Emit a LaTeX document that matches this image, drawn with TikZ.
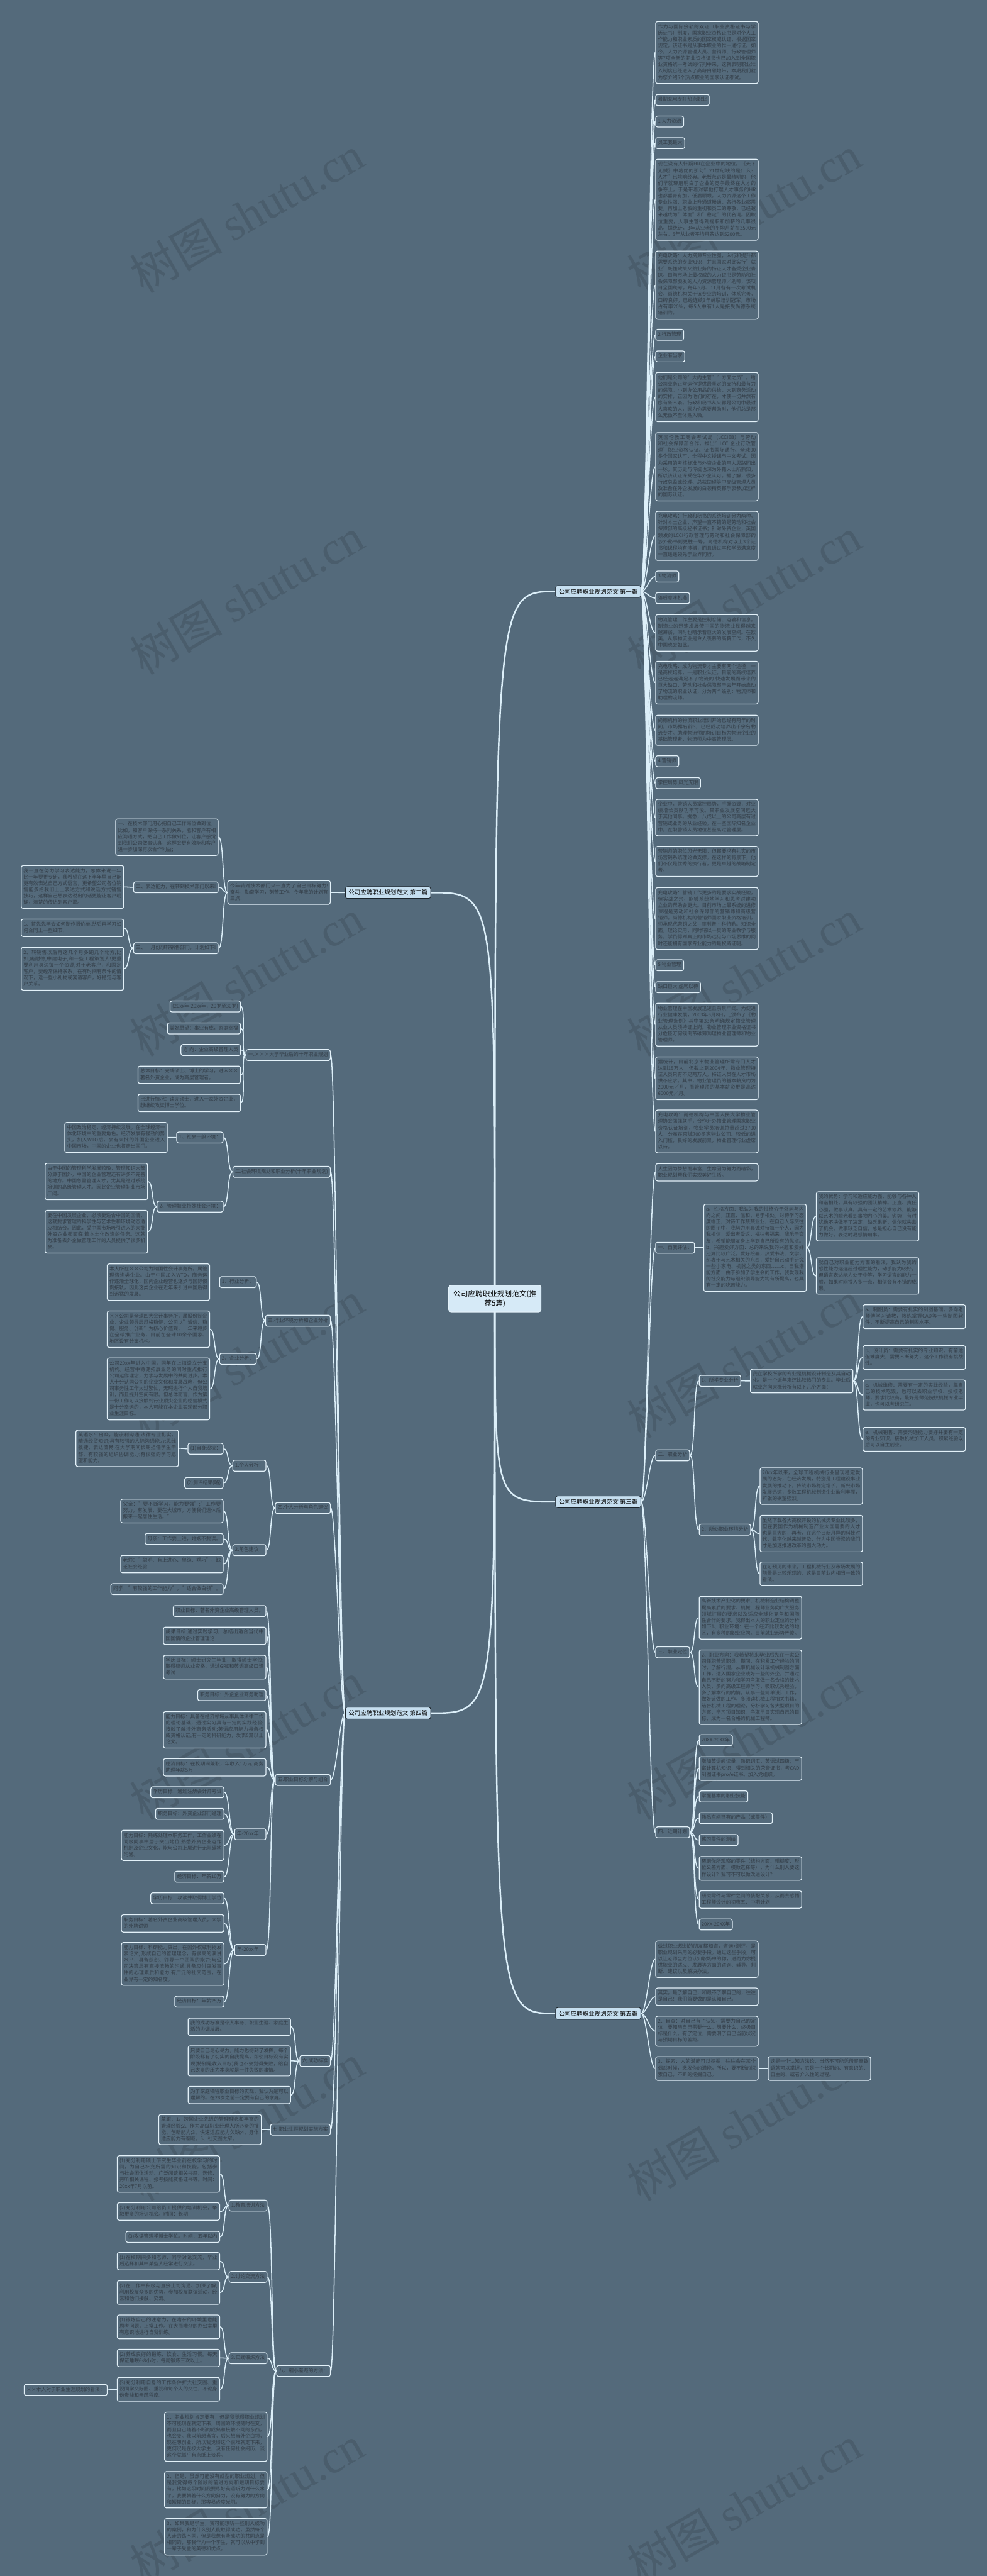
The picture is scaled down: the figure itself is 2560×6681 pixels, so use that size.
\documentclass[tikz,border=0pt]{standalone}
\usepackage{fontspec}
\setmainfont{Noto Sans CJK SC}
\newfontfamily\wmlatin{Liberation Serif}
\XeTeXlinebreaklocale "zh"
\XeTeXlinebreakskip = 0pt plus 1pt
\usepackage{xcolor}
\usepackage{tikz}
\usetikzlibrary{
    arrows.meta,
    positioning,
    calc,
    backgrounds
}
\definecolor{mmbg}{HTML}{546A7B}
\definecolor{mmedge}{HTML}{E3F1F9}
\definecolor{mmline}{HTML}{DCEFF9}
\definecolor{mmink}{HTML}{333D47}
\definecolor{mmsect}{HTML}{C5DEEF}
\definecolor{mmroot}{HTML}{D6EAF7}
\definecolor{mmdark}{HTML}{1C252C}
\newcommand\leafsize{\fontsize{12.7}{16.5}\selectfont}
\newcommand\sectsize{\fontsize{15.5}{20}\selectfont}
\newcommand\rootsize{\fontsize{19}{25}\selectfont}
\tikzset{
    % plain topic box
    leaf/.style={
        rectangle,
        rounded corners=5pt,
        draw=mmedge,
        line width=2pt,
        fill=mmbg,
        text=mmink,
        font=\leafsize,
        inner xsep=6pt,
        inner ysep=6pt,
        execute at begin node=\strut,
        execute at end node=\strut
    },
    % paragraph box
    para/.style={
        leaf,
        text width=254pt,
        align=justify
    },
    % chapter topic
    sect/.style={
        rectangle,
        rounded corners=5pt,
        draw=mmdark,
        line width=1.5pt,
        fill=mmsect,
        text=black,
        font=\sectsize,
        inner xsep=8pt,
        inner ysep=8pt
    },
    % central topic
    rootnode/.style={
        rectangle,
        rounded corners=6pt,
        draw=mmedge,
        line width=2pt,
        fill=mmroot,
        text=black,
        font=\rootsize,
        align=center,
        inner xsep=12pt,
        inner ysep=12pt
    },
    % connectors
    rlink/.style={
        draw=mmline,
        line width=2.5pt,
        to path={.. controls +(14,0) and +(-14,0) .. (\tikztotarget)}
    },
    llink/.style={
        draw=mmline,
        line width=2.5pt,
        to path={.. controls +(-14,0) and +(14,0) .. (\tikztotarget)}
    },
    trunk/.style={
        draw=mmline,
        line width=4pt
    },
    wmark/.style={
        text=mmbg!88!black,
        font=\fontsize{120}{120}\selectfont,
        rotate=30,
        inner sep=0pt
    }
}

\begin{document}
\begin{tikzpicture}[x=1pt, y=-1pt]

    \useasboundingbox (0,0) rectangle (2560,6681);

    % Central topic
    \node[rootnode] (root) at (1284,3368) {公司应聘职业规划范文(推\\荐5篇)};

    % Chapters
    \node[sect, anchor=west] (s1) at (1441,1534) {公司应聘职业规划范文 第一篇};
    \node[sect, anchor=east] (s2) at (1118,2315) {公司应聘职业规划范文 第二篇};
    \node[sect, anchor=west] (s3) at (1441,3895) {公司应聘职业规划范文 第三篇};
    \node[sect, anchor=east] (s4) at (1118,4443) {公司应聘职业规划范文 第四篇};
    \node[sect, anchor=west] (s5) at (1441,5222) {公司应聘职业规划范文 第五篇};

    % Chapter 1 (right)
    \node[para, anchor=north west] (a1) at (1700,55) {作为与国际接轨的双证（职业资格证书与学历证书）制度，国家职业资格证书是对个人工作能力和职业素质的国家权威认证，根据国家规定，该证书是从事本职业的惟一通行证。如今，人力资源管理人员、营销师、行政管理师等7项全新的职业资格证书也已加入到全国职业资格统一考试的行列中来，这就表明职业准入制度已经进入了高薪白领地带，本期我们就为您介绍5个热点职业的国家认证考试。};
    \node[leaf, anchor=north west] (a2) at (1700,244) {暑期充电专盯热点职业};
    \node[leaf, anchor=north west] (a3) at (1700,300) {1 人力资源};
    \node[leaf, anchor=north west] (a4) at (1700,356) {员工我最大};
    \node[para, anchor=north west] (a5) at (1700,412) {现在没有人怀疑HR在企业中的地位。《天下无贼》中葛优的那句"21世纪缺的是什么？人才"已境晌经典。老板永远是最精明的，他们早就琢磨明白了企业的竞争最终在人才的争夺上，于是带着对帮他打理人才事务的HR也都垂青有加，低眉顺眼。人力资源这个工作专业性强，职业上升通道畅通，各行各业都需要，再加上老板的重视和员工的尊敬，已经越来越成为"体面"和"稳定"的代名词。因职位重要，人事主管得到提职和加薪的几率很高。据统计，3年从业者的平均月薪在3500元左右，5年从业者平均月薪达到5200元。};
    \node[para, anchor=north west] (a6) at (1700,650) {充电攻略：人力资源专业性强，入行和提升都需要系统的专业知识，并且国家对此实行"就业"既懂政策又熟业务的持证人才备受企业青睐。目前市场上最权威的人力证书是劳动和社会保障部颁发的人力资源管理师／助师，该项目全国统考，每年5月、11月各有一次考试机会。尚德机构关于该专业的培训，体系完善，口碑良好，已经连续3年蝉联培训冠军。市场占有率20\%，每5人中有1人是接受尚德系统培训的。};
    \node[leaf, anchor=north west] (a7) at (1700,853) {2 行政管理};
    \node[leaf, anchor=north west] (a8) at (1700,909) {企业有当家};
    \node[para, anchor=north west] (a9) at (1700,965) {他们是公司的"大内主管""方面之员"。给公司业务正常运作提供最坚定的支持和最有力的保障。小到办公用品的供给，大到商务活动的安排，正因为他们的存在，才使一切井然有序有条不紊。行政和秘书从来都是公司中最讨人喜欢的人，因为你需要帮助时，他们总是那么无微不至体贴入微。};
    \node[para, anchor=north west] (a10) at (1700,1121) {英国伦敦工商会考试局（LCCIEB）与劳动和社会保障部合作，推出"LCCI企业行政管理"职业资格认证。证书国际通行、全球90多个国家认可，全程中文授课与中文考试。因为采用的考核标准与外资企业的用人思路同出一脉，其历史与传统也深为外籍人士所熟知，所以该认证深受在华外企认可。据了解，很多行政总监或经理、总裁助理等中高级管理人员及准备在外企发展的白领精英都乐衷参加这样的国际认证。};
    \node[para, anchor=north west] (a11) at (1700,1325) {充电攻略：行政和秘书的系统培训分为两种。针对本土企业，声望一直不错的是劳动和社会保障部的高级秘书证书；针对外资企业，英国颁发的LCCI行政管理与劳动和社会保障部的涉外秘书则更胜一筹。尚德机构对以上3个证书和课程均有涉猎，而且通过率和学员满意度一直遥遥领先于业界同行。};
    \node[leaf, anchor=north west] (a12) at (1700,1480) {3 物流师};
    \node[leaf, anchor=north west] (a13) at (1700,1536) {落后意味机遇};
    \node[para, anchor=north west] (a14) at (1700,1593) {物流管理工作主要是控制仓储、运输和信息。制造业的迅速发展使中国的物流业显得越来越薄弱，同时也暗示着巨大的发展空间。在欧美，从事物流业是令人羡慕的高薪工作，不久中国也会如此。};
    \node[para, anchor=north west] (a15) at (1700,1714) {充电攻略：成为物流专才主要有两个途径：一是高校培养，一是职业认证。目前的高校培养已经远远满足不了物流的.快速发展而带来的巨大缺口，劳动和社会保障部于去年开始启动了物流的职业认证，分为两个级别：物流师和助理物流师。};
    \node[para, anchor=north west] (a16) at (1700,1854) {尚德机构的物流职业培训开始已经有两年的时间，市场排名前3，已经成功培养出千余名物流专才。助理物流师的培训目标为物流企业的基础管理者，物流师为中高管理层。};
    \node[leaf, anchor=north west] (a17) at (1700,1959) {4 营销师};
    \node[leaf, anchor=north west] (a18) at (1700,2016) {掌控局势 风光无限};
    \node[para, anchor=north west] (a19) at (1700,2072) {企业中，营销人员掌控局势，手握资源，对业绩增长贡献功不可没。其职业发展空间远大于其他同事。据悉，八成以上的公司高层有过营销或业务的从业经验。在一些国际知名企业中，在职营销人员地位甚至高过管理层。};
    \node[para, anchor=north west] (a20) at (1700,2194) {营销师的职位风光无限，但都要求有扎实的市场营销系统理论做支撑。在这样的背景下，他们不仅是优秀的执行者，更是卓越的战略制定者。};
    \node[para, anchor=north west] (a21) at (1700,2301) {充电攻略：营销工作更多的是要求实战经验，但实战之余，能够系统地学习和思考对建功立业的帮助会更大。目前市场上最系统的进修课程是劳动和社会保障部的营销师和高级营销师。尚德机构的营销师国家职业资格培训，师承现代营销之父—菲利普·科特勒。知识全面，理论实用，同时辅以一贯的专业教学与服务，学员得到真正的市场远见与市场思维的同时还能拥有国家专业能力的最权威证明。};
    \node[leaf, anchor=north west] (a22) at (1700,2488) {5 物业管理};
    \node[leaf, anchor=north west] (a23) at (1700,2545) {缺口巨大 虚席以待};
    \node[para, anchor=north west] (a24) at (1700,2601) {物业管理在中国发展迅速且前景广阔。为促进行业健康发展，2003年6月8日，\_颁布了《物业管理条例》其中第33条明确规定物业管理从业人员须持证上岗。物业管理职业资格证书分危臣叮何镆倒芾碓薄⒅理物业管理师和物业管理师。};
    \node[para, anchor=north west] (a25) at (1700,2740) {据统计，目前北京市物业管理所需专门人才达到15万人，但截止到2004年，物业管理持证人员只有不足两万人。持证人员在人才市场供不应求。其中，物业管理员的基本薪资约为2000元／月，而管理师的基本薪资更是高达6000元／月。};
    \node[para, anchor=north west] (a26) at (1700,2878) {充电攻略：尚德机构与中国人民大学物业管理协会强强联手，合作开办物业管理国家职业资格认证培训，物业学员培训总量超过3700人，分布在京城700多家物业公司。较低的进入门槛，良好的发展前景，物业管理行业虚席以待。};

    % Chapter 2 (left)
    \node[para, anchor=north east] (b1) at (858,2283) {今年转到技术部门来一直为了自己目标努力!奋斗，勤奋学习，刻苦工作，今年我的计划有三点：};
    \node[para, anchor=north east] (b2) at (567,2123) {一、在技术部门用心把自己工作岗位做到位，比如，和客户保持一系列关系，能和客户有相应沟通方式，把自己工作做到位，让客户感觉到我们公司做事认真，这样会更有效能和客户进一步加深再次合作利益;};
    \node[leaf, anchor=north east] (b3) at (567,2286) {二、表达能力，在转到技术部门以来!};
    \node[para, anchor=north east] (b4) at (322,2244) {我一直在努力学习表达能力，总体来说一年比一年要更专研，我希望在这下半年里自己能更有效表达自己方式语言，更希望公司各位销售能多给我们上上表达方式和说话方式销售技巧，这样自己想表达说出的话更能让客户明确，清楚的传达到客户那。};
    \node[leaf, anchor=north east] (b5) at (567,2444) {三、十月份想转销售部门，计划如下!};
    \node[para, anchor=north east] (b6) at (322,2383) {1、首先先学会如何制作报价单,然后再学习如何合同上一些细节,};
    \node[para, anchor=north east] (b7) at (322,2456) {2、转销售以后再这几个月多跑几个地方,比如,施耐德,中建电子,和一些工程策划人!更重要利用身边每一个资源,对于老客户，和固定客户，要经常保持联系，在有时间有条件的情况下，送一些小礼物或宴请客户，好稳定与客户关系。};

    % Chapter 3 (right)
    \node[para, anchor=north west] (c1) at (1700,3017) {人生因为梦想而丰富，生命因为努力而精彩，职业规划帮我们实现美好生活。};
    \node[leaf, anchor=north west] (c2) at (1700,3221) {一、自我评估：};
    \node[para, anchor=north west] (c3) at (1825,3122) {a、性格方面：我认为我的性格介于外向与内向之间，正直、温和、易于相处。对待学习态度端正，对待工作兢兢业业，在自己人际交往的圈子中，我努力用真诚对待每一个人，因为我相信，爱出者爱返，福往者福来。我乐于交友，希望能朋友身上学到自己所没有的优点。b、兴趣爱好方面：总的来说我的兴趣和爱好还算比较广泛。爱好绘画，热爱书法、文学，热衷于与艺术相关的东西，爱好自己动手研究一些小家电、机器之类的东西……c、自我潜能方面：由于参加了学生会的工作，我发现我的社交能力与组织领导能力均有所提高，也具有一定的吃苦能力。};
    \node[para, anchor=north west] (c3a) at (2117,3090) {我的优势：学习和适应能力强，能够与各种人和谐相处，具有较强的团队精神。正直、责任心强，做事认真。具有一定的艺术修养，能够以艺术的眼光看到事物内心的美。劣势：有时犹豫不决做不了决定，缺乏果断，偶尔就失去了机会。做事缺乏自信，总是担心自己没有能力做好。表达时易感情用事。};
    \node[para, anchor=north west] (c3b) at (2117,3261) {就自己对职业能力方面的看法，我认为我的感性能力远远超过理性能力，动手能力较好，但语言表达能力处于中等，学习语言的能力一般，如果时间投入多一点，相信会有不错的成果。};
    \node[leaf, anchor=north west] (c5) at (1700,3759) {二、职业分析};
    \node[leaf, anchor=north west] (c6) at (1813,3566) {1、所学专业分析};
    \node[para, anchor=north west] (c7) at (1946,3550) {我在学校所学的专业是机械设计制造及其自动化，是一个近年来还比较热门的专业。毕业后就业方向大概分析有以下几个方面：};
    \node[para, anchor=north west] (c8) at (2238,3383) {a、制图员：需要有扎实的制图基础，多向老师傅学习请教，熟练掌握CAD等一些制图软件，不断提高自己的制图水平。};
    \node[para, anchor=north west] (c9) at (2238,3489) {b、设计员：需要有扎实的专业知识，有前途但难度大，需要不断努力，这个工作很有挑战性。};
    \node[para, anchor=north west] (c10) at (2238,3578) {c、机械维修：需要有一定的实践经验，靠自己的技术吃饭，也可以去职业学校、技校老师，要求比较高，最好是师范院校机械专业毕业，也可以考研究生。};
    \node[para, anchor=north west] (c11) at (2238,3701) {e、机械销售：需要沟通能力要好并要有一定的专业知识，接触机械加工人员，积累经验以后可以自主创业。};
    \node[leaf, anchor=north west] (c12) at (1813,3952) {2、所处职业环境分析};
    \node[para, anchor=north west] (c13) at (1971,3806) {20xx年以来，全球工程机械行业呈现稳定发展的态势，在经济发展，特别是工程建设事业发展的推动下，传统市场稳定增长，新兴市场发展迅速，多数工程机械制造企业盈利丰厚，扩张的欲望强烈。};
    \node[para, anchor=north west] (c14) at (1971,3929) {虽然下载各大高校开设的机械类专业比较多，但在我国作为机械制造产业大国需要的人才也是巨大的，再者，在这个日新月异的科技时代，数字化越来越普及，作为中国脊梁的我们才是加速推进改革的强大动力。};
    \node[para, anchor=north west] (c15) at (1971,4050) {在可预见的未来，工程机械行业及市场发展的前景是比较乐观的，这是目前业内相当一致的看法。};
    \node[leaf, anchor=north west] (c17) at (1700,4270) {三、职业定位};
    \node[para, anchor=north west] (c18) at (1813,4139) {高新技术产业化的要求、机械制造业结构调整提高素质的要求、机械工程师业务向广大服务领域扩展的要求以及适应全球化竞争和国际性合作的要求。我得出本人的职业定位的分析如下1、职业环境：在一个经济比较发达的地区，有多种的职业应聘。目前就业形势严峻。};
    \node[para, anchor=north west] (c19) at (1813,4278) {2、职业方向：我希望将来毕业后先在一家公司任职普通职员。期间，在积累工作经验的同时，了解行规。从事机械设计或机械制图方面工作，进入国家企业或好一些的外企，并通过自己不断的努力和学习争取做一名合格的技术人员，多向高级工程师学习，吸取优秀经验，多了解本行的内情，从事一些简单设计工作，做好该做的工作。多阅读机械工程相关书籍，结合机械工程的理论，分析学习各大型项目的方案，学习项目知识。争取早日实现自己的目标，成为一名合格的机械工程师。};
    \node[leaf, anchor=north west] (c20) at (1700,4737) {四、近期计划};
    \node[leaf, anchor=north west] (c21) at (1813,4498) {20XX-20XX年};
    \node[para, anchor=north west] (c22) at (1813,4555) {增加英语阅读量，熟记词汇，英语过四级；丰富计算机知识；得到相关的荣誉证书，考CAD制图证书pro/e证书。加入党组织。};
    \node[leaf, anchor=north west] (c23) at (1813,4644) {掌握基本的职业技能};
    \node[leaf, anchor=north west] (c24) at (1813,4700) {熟悉车间已有的产品（或零件）};
    \node[leaf, anchor=north west] (c25) at (1813,4757) {练习零件的测绘};
    \node[para, anchor=north west] (c26) at (1813,4814) {琢磨你所观察的零件（结构方面、粗糙度、形位公差方面、模数选择等），为什么别人要这样设计？我可不可以做改进设计？};
    \node[para, anchor=north west] (c27) at (1813,4903) {研究零件与零件之间的装配关系，从而去感悟工程师设计的初衷五、中期计划};
    \node[leaf, anchor=north west] (c28) at (1813,4976) {20XX-20XX年};

    % Chapter 4 (left)
    \node[leaf, anchor=north east] (d1) at (858,2721) {一.×××大学毕业后的十年职业规划};
    \node[leaf, anchor=north east] (d1a) at (625,2595) {(20xx年-20xx年，20岁至30岁)};
    \node[leaf, anchor=north east] (d1b) at (625,2652) {美好愿望：事业有成，家庭幸福};
    \node[leaf, anchor=north east] (d1c) at (625,2708) {方 向：企业高级管理人员};
    \node[para, anchor=north east] (d1d) at (625,2764) {总体目标：完成硕士、博士的学习，进入××著名外资企业，成为高层管理者。};
    \node[para, anchor=north east] (d1e) at (625,2837) {已进行情况：读完硕士，进入一家外资企业，想继续攻读博士学位。};
    \node[leaf, anchor=north east] (d2) at (858,3024) {二.社会环境规划和职业分析(十年职业规划)};
    \node[leaf, anchor=north east] (d2a) at (580,2935) {1、社会一般环境：};
    \node[para, anchor=north east] (d2a1) at (435,2910) {中国政治稳定，经济持续发展。在全球经济一体化环境中的重要角色。经济发展有强劲的势头，加入WTO后，会有大批的外国企业进入中国市场，中国的企业也将走出国门。};
    \node[leaf, anchor=north east] (d2b) at (580,3114) {2、管理职业特殊社会环境：};
    \node[para, anchor=north east] (d2b1) at (384,3016) {由于中国的管理科学发展较晚，管理知识大部分源于国外，中国的企业管理还有许多不完善的地方。中国急需管理人才，尤其是经过系统培训的高级管理人才。因此企业管理职业市场广阔。};
    \node[para, anchor=north east] (d2b2) at (384,3138) {要在中国发展企业，必须要适合中国的国情，这就要求管理的科学性与艺术性和环境动态适应相结合。因此，受中国市场吸引进入的大批外资企业都面临 着本土化改造的任务。这就为准备去外企做管理工作的人员提供了很多机会。};
    \node[leaf, anchor=north east] (d3) at (858,3410) {三.行业环境分析和企业分析};
    \node[leaf, anchor=north east] (d3a) at (666,3310) {1、行业分析：};
    \node[para, anchor=north east] (d3a1) at (545,3277) {本人所在××公司为跨国性会计事务所。属管理咨询类企业。由于中国加入WTO，商务运作逐渐全球化，国内企业经营也逐步与国际惯例接轨，因此这类企业在近年来引进中国后得到迅猛的发展。};
    \node[leaf, anchor=north east] (d3b) at (666,3509) {2、企业分析：};
    \node[para, anchor=north east] (d3b1) at (545,3399) {××公司是全球四大会计事务所，属股份制企业，企业领导层风格稳健，公司以"诚信、稳健、服务、创新"为核心价值观，十年来稳步在全球推广业务，目前在全球10余个国家、地区设有分支机构。};
    \node[para, anchor=north east] (d3b2) at (545,3521) {公司20xx年进入中国，同年在上海设立分支机构。经营中稳健拓展业务的同时重点推行公司运作理念，力求与发展中的共同进步。本人十分认同公司的企业文化和发展战略，但公司事务性工作太过繁忙，无暇进行个人自我培训，而且提升空间有限。但总体而言，作为第一份工作可以接触到行业顶尖企业的经营模式是十分幸运的，本人可能在本企业实现部分职业生涯目标。};
    \node[leaf, anchor=north east] (d4) at (858,3896) {四.个人分析与角色建议};
    \node[leaf, anchor=north east] (d4a) at (691,3786) {1.个人分析：};
    \node[leaf, anchor=north east] (d4a1) at (580,3742) {(1)自身现状：};
    \node[para, anchor=north east] (d4a1x) at (464,3708) {英语水平出众，能流利沟通;法律专业扎实，精通经贸知识;具有较强的人际沟通能力;思维敏捷，表达流畅;在大学期间长期担任学生干部，有较强的组织协调能力;有很强的学习愿望和能力。};
    \node[leaf, anchor=north east] (d4a2) at (580,3831) {(2)测评结果(略)};
    \node[leaf, anchor=north east] (d4b) at (691,4005) {2.角色建议：};
    \node[para, anchor=north east] (d4b1) at (580,3887) {父亲："要不断学习，能力要强";"工作要努力，有发展，要在大城市，方便我们退休后搬来一起居住生活。"};
    \node[leaf, anchor=north east] (d4b2) at (580,3976) {母亲：工作要上进，婚姻不要误。};
    \node[para, anchor=north east] (d4b3) at (580,4033) {老师："聪明、有上进心、单纯、乖巧"，缺乏社会经验};
    \node[leaf, anchor=north east] (d4b4) at (580,4106) {同学："有较强的工作能力"，"适合做白领"。};
    \node[leaf, anchor=north east] (d5) at (858,4601) {五.职业目标分解与组合};
    \node[leaf, anchor=north east] (d5a) at (691,4163) {职业目标：著名外资企业高级管理人员。};
    \node[para, anchor=north east] (d5b) at (691,4219) {成果目标:通过实践学习，总结出适合当代中国国情的企业管理理论};
    \node[para, anchor=north east] (d5c) at (691,4292) {学历目标：硕士研究生毕业，取得硕士学位;取得律师从业资格、通过GRE和英语高级口译考试};
    \node[leaf, anchor=north east] (d5d) at (691,4381) {职务目标：外企企业商务助理};
    \node[para, anchor=north east] (d5e) at (691,4438) {能力目标：具备在经济领域从事具体法律工作的理论基础，通过实习具有一定的实践经验;接触了解涉外商务活动;英语应用能力具备权威资格认证;有一定的科研能力，发表5篇以上论文。};
    \node[para, anchor=north east] (d5f) at (691,4560) {经济目标：在校期间兼职，年收入1万元;商务助理年薪5万};
    \node[leaf, anchor=north east] (d5g) at (691,4742) {年-20xx年：};
    \node[leaf, anchor=north east] (d5g1) at (582,4633) {学历目标：通过注册会计师考试};
    \node[leaf, anchor=north east] (d5g2) at (582,4689) {职务目标：外资企业部门经理};
    \node[para, anchor=north east] (d5g3) at (582,4746) {能力目标：熟练处理本职务工作，工作业绩在同级同事中居于突出地位;熟悉外资企业运作机制及企业文化，能与公司上层进行无阻碍地沟通。};
    \node[leaf, anchor=north east] (d5g4) at (582,4852) {经济目标：年薪10万};
    \node[leaf, anchor=north east] (d5h) at (691,5042) {年-20xx年：};
    \node[leaf, anchor=north east] (d5h1) at (582,4908) {学历目标：攻读并取得博士学位};
    \node[para, anchor=north east] (d5h2) at (582,4965) {职务目标：著名外资企业高级管理人员，大学的外聘讲师};
    \node[para, anchor=north east] (d5h3) at (582,5037) {能力目标：科研能力突出，在国外权威刊物发表论文; 形成自己的管理理念，有很高的演讲水平，具备组织、领导一个团队的能力;与公司决策层有直接流畅的沟通;具备应付突发事件的心理素质和能力;有广泛的社交范围，在业界有一定的知名度。};
    \node[leaf, anchor=north east] (d5h4) at (582,5176) {经济目标：年薪25万};
    \node[leaf, anchor=north east] (d6) at (858,5330) {六.成功标准};
    \node[para, anchor=north east] (d6a) at (755,5233) {我的成功标准是个人事务、职业生涯、家庭生活的协调发展。};
    \node[para, anchor=north east] (d6b) at (755,5305) {只要自己尽心尽力，能力也得到了发挥，每个阶段都有了切实的自我提高，即使目标没有实现(特别是收入目标)我也不会觉得失败，给自己太多的压力本身就是一件失败的事情。};
    \node[para, anchor=north east] (d6c) at (755,5410) {为了家庭牺牲职业目标的实现，我认为是可以理解的。在28岁之前一定要有自己的家庭。};
    \node[leaf, anchor=north east] (d7) at (858,5508) {七.职业生涯规划实施方案};
    \node[para, anchor=north east] (d7a) at (679,5483) {差距：1、跨国企业先进的管理理念和丰富的管理经验;2、作为高级职业经理人所必备的技能、创新能力;3、快速适应能力欠缺;4、身体适应能力有差距。5、社交圈太窄。};
    \node[leaf, anchor=north east] (d8) at (858,6134) {八、缩小差距的方法：};
    \node[leaf, anchor=north east] (d8a) at (694,5705) {1.教育培训方法};
    \node[para, anchor=north east] (d8a1) at (571,5590) {(1)充分利用硕士研究生毕业前在校学习的时间，为自己补充所需的知识和技能。包括参与社会团体活动、广泛阅读相关书籍、选修、旁听相关课程、报考技能资格证书等。时间：20xx年7月以前。};
    \node[para, anchor=north east] (d8a2) at (571,5712) {(2)充分利用公司给员工提供的培训机会，争取更多的培训机会。时间：长期};
    \node[leaf, anchor=north east] (d8a3) at (571,5786) {(3)攻读管理学博士学位。时间：五年以内};
    \node[leaf, anchor=north east] (d8b) at (694,5890) {2.讨论交流方法};
    \node[para, anchor=north east] (d8b1) at (571,5841) {(1)在校期间多和老师、同学讨论交流，毕业后选择和其中某些人经常进行交流。};
    \node[para, anchor=north east] (d8b2) at (571,5914) {(2)在工作中积极与直接上司沟通、加深了解;利用校友众多的优势，参加校友联谊活动，经常和他们接触、交流。};
    \node[leaf, anchor=north east] (d8c) at (694,6101) {3.实践锻炼方法};
    \node[para, anchor=north east] (d8c1) at (571,6003) {(1)锻炼自己的注意力，在嘈杂的环境里也能思考问题，正常工作。在大而嘈杂的办公室里有意识地进行自我训练。};
    \node[para, anchor=north east] (d8c2) at (571,6092) {(2)养成良好的锻炼、饮食、生活习惯。每天保证睡眠6-8小时，每周锻炼三次以上。};
    \node[para, anchor=north east] (d8c3) at (571,6165) {(3)充分利用自身的工作条件扩大社交圈、重视同学交际圈、重视和每个人的交往，不论身份贵贱和亲疏程度。};
    \node[leaf, anchor=north east] (d8c3x) at (279,6183) {××本人对于职业生涯规划的看法：};
    \node[para, anchor=north east] (d8d) at (694,6255) {1、职业规划肯定要有，但是我觉得职业规划不可能现在就定下来，周围的环境随时在变，而且自己随着不断的成熟和接触不同的东西，也会变。我以前想当官，后来想当外企白领，现在想创业，所以我觉得这个很难就定下来，更何况是在校大学生，没有任何社会阅历，谈这个就似乎有点纸上谈兵。};
    \node[para, anchor=north east] (d8e) at (694,6409) {2、但是，虽然可能没有成型的职业规划，但是我觉得每个阶段的前进方向和短期目标要有，比如这段时间我要练好英语听力到什么水平，我要朝着什么方向努力，没有努力的方向和短期的目标，那容易虚度光阴。};
    \node[para, anchor=north east] (d8f) at (694,6531) {3、如果我是学生，我可能想听一些别人成功的案例，和为什么别人能取得成功，虽然每个人走的路不同，但是我想有些成功的共同点是相同的，那我作为一个学生，就可以从中学到一辈子受益的美德和优点。};

    % Chapter 5 (right)
    \node[para, anchor=north west] (e1) at (1700,5033) {做过职业规划的朋友都知道，咨询+测评，是职业规划采用的必要手段。通过这些手段，可以让老师全方位认知职场中的你，进而为你提供职业的适应、发展等方面的咨询、辅导、判断、建议以及解决办法。};
    \node[para, anchor=north west] (e2) at (1700,5155) {其实，最了解自己，和最不了解自己的，往往是自己！我们首要做的是认知自己。};
    \node[para, anchor=north west] (e3) at (1700,5228) {2、自查：对自己有了认知，需要为自己的定位，要知晓自己需要什么，想要什么，终极目标是什么。有了定位，需要明了自己当前状况与预期目标的差距。};
    \node[para, anchor=north west] (e4) at (1700,5333) {3、探索：人的潜能可以挖掘，往往会在某个偶然时候，激发你的潜能，所以，要不断的探索自己，不断的挖掘自己。};
    \node[para, anchor=north west] (e5) at (1992,5333) {这是一个认知方法论，当然不可能凭借寥寥数语就可以掌握，它是一个长期的、有意识的、自主的、或者介入性的过程。};

    \begin{scope}[on background layer]
        % page colour and watermark
        \fill[mmbg] (0,0) rectangle (2560,6681);
        \node[wmark] (wm1) at (640,555) {树图 {\wmlatin shutu.cn}};
        \node[wmark] (wm2) at (1930,555) {树图 {\wmlatin shutu.cn}};
        \node[wmark] (wm3) at (640,1545) {树图 {\wmlatin shutu.cn}};
        \node[wmark] (wm4) at (1930,1545) {树图 {\wmlatin shutu.cn}};
        \node[wmark] (wm5) at (640,2535) {树图 {\wmlatin shutu.cn}};
        \node[wmark] (wm6) at (1930,2535) {树图 {\wmlatin shutu.cn}};
        \node[wmark] (wm7) at (640,3525) {树图 {\wmlatin shutu.cn}};
        \node[wmark] (wm8) at (1930,3525) {树图 {\wmlatin shutu.cn}};
        \node[wmark] (wm9) at (640,4515) {树图 {\wmlatin shutu.cn}};
        \node[wmark] (wm10) at (1930,4515) {树图 {\wmlatin shutu.cn}};
        \node[wmark] (wm11) at (640,5505) {树图 {\wmlatin shutu.cn}};
        \node[wmark] (wm12) at (1930,5505) {树图 {\wmlatin shutu.cn}};
        \node[wmark] (wm13) at (640,6495) {树图 {\wmlatin shutu.cn}};
        \node[wmark] (wm14) at (1930,6495) {树图 {\wmlatin shutu.cn}};

        % Central topic to chapters
        \draw[trunk] (root.center) .. controls (root.center |- s1.west) .. (s1.west);
        \draw[trunk] (root.center) .. controls (root.center |- s2.east) .. (s2.east);
        \draw[trunk] (root.center) .. controls (root.center |- s3.west) .. (s3.west);
        \draw[trunk] (root.center) .. controls (root.center |- s4.east) .. (s4.east);
        \draw[trunk] (root.center) .. controls (root.center |- s5.west) .. (s5.west);

        % Chapter 1 links
        \draw[rlink] (s1.east) to (a1.west);
        \draw[rlink] (s1.east) to (a2.west);
        \draw[rlink] (s1.east) to (a3.west);
        \draw[rlink] (s1.east) to (a4.west);
        \draw[rlink] (s1.east) to (a5.west);
        \draw[rlink] (s1.east) to (a6.west);
        \draw[rlink] (s1.east) to (a7.west);
        \draw[rlink] (s1.east) to (a8.west);
        \draw[rlink] (s1.east) to (a9.west);
        \draw[rlink] (s1.east) to (a10.west);
        \draw[rlink] (s1.east) to (a11.west);
        \draw[rlink] (s1.east) to (a12.west);
        \draw[rlink] (s1.east) to (a13.west);
        \draw[rlink] (s1.east) to (a14.west);
        \draw[rlink] (s1.east) to (a15.west);
        \draw[rlink] (s1.east) to (a16.west);
        \draw[rlink] (s1.east) to (a17.west);
        \draw[rlink] (s1.east) to (a18.west);
        \draw[rlink] (s1.east) to (a19.west);
        \draw[rlink] (s1.east) to (a20.west);
        \draw[rlink] (s1.east) to (a21.west);
        \draw[rlink] (s1.east) to (a22.west);
        \draw[rlink] (s1.east) to (a23.west);
        \draw[rlink] (s1.east) to (a24.west);
        \draw[rlink] (s1.east) to (a25.west);
        \draw[rlink] (s1.east) to (a26.west);

        % Chapter 2 links
        \draw[llink] (s2.west) to (b1.east);
        \draw[llink] (b1.west) to (b2.east);
        \draw[llink] (b1.west) to (b3.east);
        \draw[llink] (b1.west) to (b5.east);
        \draw[llink] (b3.west) to (b4.east);
        \draw[llink] (b5.west) to (b6.east);
        \draw[llink] (b5.west) to (b7.east);

        % Chapter 3 links
        \draw[rlink] (s3.east) to (c1.west);
        \draw[rlink] (s3.east) to (c2.west);
        \draw[rlink] (s3.east) to (c5.west);
        \draw[rlink] (s3.east) to (c17.west);
        \draw[rlink] (s3.east) to (c20.west);
        \draw[rlink] (c2.east) to (c3.west);
        \draw[rlink] (c3.east) to (c3a.west);
        \draw[rlink] (c3.east) to (c3b.west);
        \draw[rlink] (c5.east) to (c6.west);
        \draw[rlink] (c5.east) to (c12.west);
        \draw[rlink] (c6.east) to (c7.west);
        \draw[rlink] (c7.east) to (c8.west);
        \draw[rlink] (c7.east) to (c9.west);
        \draw[rlink] (c7.east) to (c10.west);
        \draw[rlink] (c7.east) to (c11.west);
        \draw[rlink] (c12.east) to (c13.west);
        \draw[rlink] (c12.east) to (c14.west);
        \draw[rlink] (c12.east) to (c15.west);
        \draw[rlink] (c17.east) to (c18.west);
        \draw[rlink] (c17.east) to (c19.west);
        \draw[rlink] (c20.east) to (c21.west);
        \draw[rlink] (c20.east) to (c22.west);
        \draw[rlink] (c20.east) to (c23.west);
        \draw[rlink] (c20.east) to (c24.west);
        \draw[rlink] (c20.east) to (c25.west);
        \draw[rlink] (c20.east) to (c26.west);
        \draw[rlink] (c20.east) to (c27.west);
        \draw[rlink] (c20.east) to (c28.west);

        % Chapter 4 links
        \draw[llink] (s4.west) to (d1.east);
        \draw[llink] (s4.west) to (d2.east);
        \draw[llink] (s4.west) to (d3.east);
        \draw[llink] (s4.west) to (d4.east);
        \draw[llink] (s4.west) to (d5.east);
        \draw[llink] (s4.west) to (d6.east);
        \draw[llink] (s4.west) to (d7.east);
        \draw[llink] (s4.west) to (d8.east);
        \draw[llink] (d1.west) to (d1a.east);
        \draw[llink] (d1.west) to (d1b.east);
        \draw[llink] (d1.west) to (d1c.east);
        \draw[llink] (d1.west) to (d1d.east);
        \draw[llink] (d1.west) to (d1e.east);
        \draw[llink] (d2.west) to (d2a.east);
        \draw[llink] (d2.west) to (d2b.east);
        \draw[llink] (d2a.west) to (d2a1.east);
        \draw[llink] (d2b.west) to (d2b1.east);
        \draw[llink] (d2b.west) to (d2b2.east);
        \draw[llink] (d3.west) to (d3a.east);
        \draw[llink] (d3.west) to (d3b.east);
        \draw[llink] (d3a.west) to (d3a1.east);
        \draw[llink] (d3b.west) to (d3b1.east);
        \draw[llink] (d3b.west) to (d3b2.east);
        \draw[llink] (d4.west) to (d4a.east);
        \draw[llink] (d4.west) to (d4b.east);
        \draw[llink] (d4a.west) to (d4a1.east);
        \draw[llink] (d4a.west) to (d4a2.east);
        \draw[llink] (d4a1.west) to (d4a1x.east);
        \draw[llink] (d4b.west) to (d4b1.east);
        \draw[llink] (d4b.west) to (d4b2.east);
        \draw[llink] (d4b.west) to (d4b3.east);
        \draw[llink] (d4b.west) to (d4b4.east);
        \draw[llink] (d5.west) to (d5a.east);
        \draw[llink] (d5.west) to (d5b.east);
        \draw[llink] (d5.west) to (d5c.east);
        \draw[llink] (d5.west) to (d5d.east);
        \draw[llink] (d5.west) to (d5e.east);
        \draw[llink] (d5.west) to (d5f.east);
        \draw[llink] (d5.west) to (d5g.east);
        \draw[llink] (d5.west) to (d5h.east);
        \draw[llink] (d5g.west) to (d5g1.east);
        \draw[llink] (d5g.west) to (d5g2.east);
        \draw[llink] (d5g.west) to (d5g3.east);
        \draw[llink] (d5g.west) to (d5g4.east);
        \draw[llink] (d5h.west) to (d5h1.east);
        \draw[llink] (d5h.west) to (d5h2.east);
        \draw[llink] (d5h.west) to (d5h3.east);
        \draw[llink] (d5h.west) to (d5h4.east);
        \draw[llink] (d6.west) to (d6a.east);
        \draw[llink] (d6.west) to (d6b.east);
        \draw[llink] (d6.west) to (d6c.east);
        \draw[llink] (d7.west) to (d7a.east);
        \draw[llink] (d8.west) to (d8a.east);
        \draw[llink] (d8.west) to (d8b.east);
        \draw[llink] (d8.west) to (d8c.east);
        \draw[llink] (d8.west) to (d8d.east);
        \draw[llink] (d8.west) to (d8e.east);
        \draw[llink] (d8.west) to (d8f.east);
        \draw[llink] (d8a.west) to (d8a1.east);
        \draw[llink] (d8a.west) to (d8a2.east);
        \draw[llink] (d8a.west) to (d8a3.east);
        \draw[llink] (d8b.west) to (d8b1.east);
        \draw[llink] (d8b.west) to (d8b2.east);
        \draw[llink] (d8c.west) to (d8c1.east);
        \draw[llink] (d8c.west) to (d8c2.east);
        \draw[llink] (d8c.west) to (d8c3.east);
        \draw[llink] (d8c3.west) to (d8c3x.east);

        % Chapter 5 links
        \draw[rlink] (s5.east) to (e1.west);
        \draw[rlink] (s5.east) to (e2.west);
        \draw[rlink] (s5.east) to (e3.west);
        \draw[rlink] (s5.east) to (e4.west);
        \draw[rlink] (e4.east) to (e5.west);
    \end{scope}

\end{tikzpicture}
\end{document}
